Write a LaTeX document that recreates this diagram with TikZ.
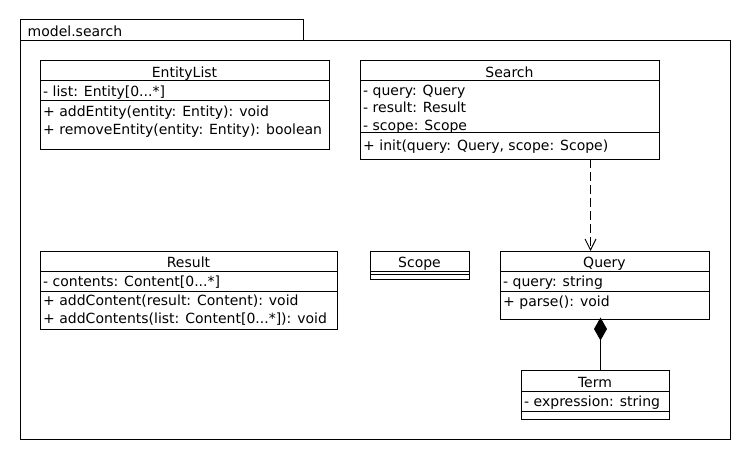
\documentclass[tikz,border=0pt]{standalone}
\usepackage{fontspec}
\setmainfont{DejaVu Sans}
\usetikzlibrary{arrows.meta}
\tikzset{
  umlbox/.style={draw, line width=1pt, anchor=north west, inner sep=0pt, outer sep=0pt},
  txt/.style={anchor=base west, inner sep=0pt, font=\fontsize{14}{17}\selectfont},
  ttl/.style={anchor=base, inner sep=0pt, font=\fontsize{14}{17}\selectfont},
  sep/.style={line width=1pt},
  depend/.style={line width=1pt, dash pattern=on 9pt off 4pt, -{Straight Barb[length=11pt,width=11pt,line width=1pt]}},
  compose/.style={line width=1pt, -{Diamond[length=23pt,width=13pt,fill=black]}}
}
\begin{document}
\begin{tikzpicture}[x=1pt,y=-1pt]
\useasboundingbox (0,0) rectangle (750,460);
% package
\node[umlbox, minimum width=283pt, minimum height=21pt] (tab) at (20,20) {};
\node[umlbox, minimum width=710pt, minimum height=398pt] (pkg) at (20,41) {};
\node[txt] (pkgname) at (27.5,36.5) {model.search};

% EntityList
\node[umlbox, minimum width=289pt, minimum height=88pt] (entitylist) at (40,61) {};
\draw[sep] (40,81) -- (329,81) (40,100) -- (329,100);
\node[ttl] (el-t) at (184.5,77.5) {EntityList};
\node[txt] (el-a1) at (43,96.5) {- list: Entity[0...*]};
\node[txt] (el-m1) at (43,116.5) {+ addEntity(entity: Entity): void};
\node[txt] (el-m2) at (43,134.5) {+ removeEntity(entity: Entity): boolean};

% Search
\node[umlbox, minimum width=299pt, minimum height=98pt] (search) at (360,61) {};
\draw[sep] (360,81) -- (659,81) (360,132) -- (659,132);
\node[ttl] (s-t) at (509.5,77.5) {Search};
\node[txt] (s-a1) at (363,95.5) {- query: Query};
\node[txt] (s-a2) at (363,113) {- result: Result};
\node[txt] (s-a3) at (363,130.5) {- scope: Scope};
\node[txt] (s-m1) at (363,150.5) {+ init(query: Query, scope: Scope)};

% Result
\node[umlbox, minimum width=297pt, minimum height=78pt] (result) at (40,251) {};
\draw[sep] (40,271) -- (337,271) (40,291) -- (337,291);
\node[ttl] (r-t) at (188.5,267.5) {Result};
\node[txt] (r-a1) at (43,286.5) {- contents: Content[0...*]};
\node[txt] (r-m1) at (43,305) {+ addContent(result: Content): void};
\node[txt] (r-m2) at (43,323.5) {+ addContents(list: Content[0...*]): void};

% Scope
\node[umlbox, minimum width=99pt, minimum height=28pt] (scope) at (370,251) {};
\draw[sep] (370,271) -- (469,271) (370,274.5) -- (469,274.5);
\node[ttl] (sc-t) at (419.5,267) {Scope};

% Query
\node[umlbox, minimum width=209pt, minimum height=68pt] (query) at (500,251) {};
\draw[sep] (500,271) -- (709,271) (500,291) -- (709,291);
\node[ttl] (q-t) at (604.5,267.5) {Query};
\node[txt] (q-a1) at (503,286.5) {- query: string};
\node[txt] (q-m1) at (503,306) {+ parse(): void};

% Term
\node[umlbox, minimum width=148pt, minimum height=49pt] (term) at (521,370) {};
\draw[sep] (521,391) -- (669,391) (521,411) -- (669,411);
\node[ttl] (t-t) at (595,387) {Term};
\node[txt] (t-a1) at (524,406.5) {- expression: string};

% connectors
\coordinate (dx) at (590.5,0);
\draw[depend] (search.south -| dx) -- (query.north -| dx);
\coordinate (cx) at (600.5,0);
\draw[compose] (term.north -| cx) -- ([yshift=1.5pt]query.south -| cx);
\end{tikzpicture}
\end{document}
